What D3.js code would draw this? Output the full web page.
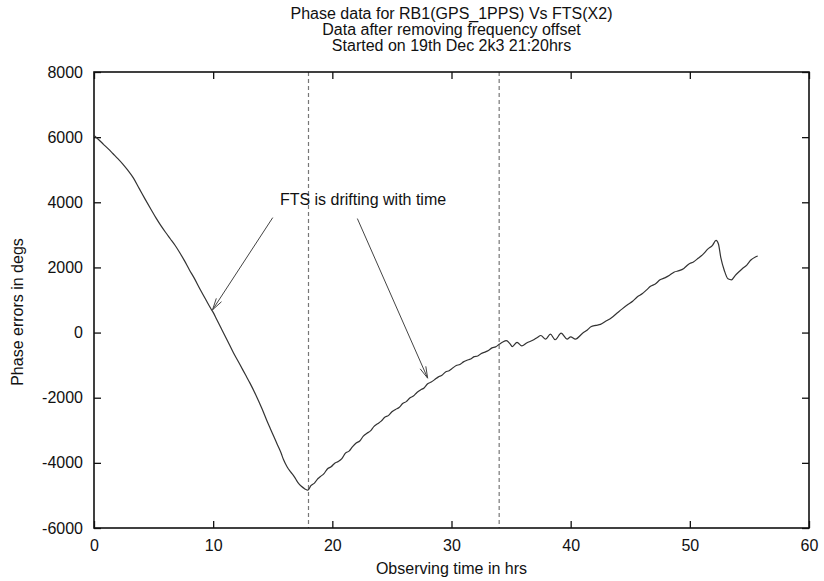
<!DOCTYPE html>
<html lang="en">
<head>
<meta charset="utf-8">
<title>Phase data for RB1(GPS_1PPS) Vs FTS(X2)</title>
<script src="https://d3js.org/d3.v7.min.js"></script>
<style>
  body { margin: 0; background: #fff; }
  text { font-family: "Liberation Sans", Arial, Helvetica, sans-serif; fill: #111; }
</style>
</head>
<body>
<script>
// chart data
var hours = [0.0, 0.4, 0.8, 1.2, 1.6, 2.0, 2.4, 2.8, 3.3, 3.8, 4.3, 4.8, 5.2, 5.6, 6.0, 6.4, 6.8, 7.2, 7.6, 8.0,
  8.4, 8.9, 9.4, 9.8, 10.0, 10.3, 10.7, 11.2, 11.7, 12.2, 12.7, 13.1, 13.6, 14.1, 14.5, 14.8, 15.1, 15.4, 15.7, 15.9,
  16.2, 16.5, 16.8, 17.1, 17.4, 17.7, 17.95, 18.2, 18.5, 18.8, 19.0, 19.3, 19.6, 19.9, 20.2, 20.5, 20.8, 21.1, 21.4, 21.7,
  22.0, 22.3, 22.6, 22.9, 23.2, 23.5, 23.8, 24.1, 24.4, 24.7, 25.0, 25.3, 25.6, 25.9, 26.2, 26.5, 26.8, 27.1, 27.4, 27.7,
  28.0, 28.3, 28.6, 28.9, 29.2, 29.5, 29.8, 30.1, 30.4, 30.7, 31.0, 31.3, 31.6, 31.9, 32.2, 32.5, 32.8, 33.1, 33.4, 33.7,
  34.0, 34.3, 34.6, 34.9, 35.1, 35.5, 35.9, 36.3, 36.9, 37.2, 37.5, 37.9, 38.3, 38.7, 39.2, 39.7, 40.0, 40.4, 41.0, 41.4,
  41.7, 42.1, 42.5, 43.0, 43.4, 43.9, 44.3, 44.8, 45.2, 45.6, 46.0, 46.4, 46.7, 47.1, 47.5, 47.9, 48.3, 48.7, 49.1, 49.5,
  49.9, 50.3, 50.7, 51.1, 51.5, 51.9, 52.2, 52.4, 52.6, 52.9, 53.2, 53.5, 53.8, 54.1, 54.4, 54.8, 55.1, 55.5, 55.7];
var phase = [6050, 5920, 5780, 5640, 5490, 5340, 5180, 5000, 4750, 4420, 4090, 3770, 3520, 3290, 3080, 2880, 2680, 2450, 2200, 1930,
  1680, 1330, 1000, 740, 620, 400, 110, -250, -620, -950, -1290, -1560, -1930, -2340, -2700, -2950, -3200, -3450, -3700, -3900,
  -4120, -4280, -4420, -4600, -4720, -4800, -4840, -4700, -4620, -4480, -4420, -4330, -4180, -4120, -4010, -3960, -3870, -3700, -3640, -3500,
  -3390, -3330, -3180, -3090, -3020, -2880, -2800, -2720, -2600, -2550, -2430, -2360, -2300, -2180, -2120, -2010, -1950, -1840, -1760, -1700,
  -1570, -1520, -1440, -1360, -1310, -1210, -1170, -1090, -1010, -980, -900, -850, -810, -740, -720, -640, -600, -550, -470, -440,
  -360, -290, -250, -340, -430, -300, -410, -320, -220, -150, -90, -200, -50, -220, -20, -200, -130, -200, -20, 80,
  180, 220, 250, 360, 450, 600, 720, 860, 960, 1100, 1190, 1320, 1420, 1490, 1620, 1680, 1760, 1860, 1900, 1970,
  2100, 2170, 2280, 2400, 2560, 2680, 2830, 2720, 2300, 1900, 1650, 1620, 1750, 1860, 1960, 2080, 2220, 2320, 2350];

var markerHours = [18, 34];
var xTicks = [0, 10, 20, 30, 40, 50, 60];
var yTicks = [-6000, -4000, -2000, 0, 2000, 4000, 6000, 8000];

var titleLines = ["Phase data for RB1(GPS_1PPS) Vs FTS(X2)",
                  "Data after removing frequency offset",
                  "Started on 19th Dec 2k3 21:20hrs"];
var noteText = "FTS is drifting with time";
var noteAt = [15.6, 3920];
var arrowFrom = [[15.0, 3530], [22.1, 3500]];
var arrowTo = [[9.95, 700], [28.0, -1400]];

var w = 824, h = 581;
var margin = {top: 72, right: 15, bottom: 53, left: 94};

var svg = d3.select("body").append("svg")
  .attr("width", w)
  .attr("height", h);

var x = d3.scaleLinear().domain([0, 60]).range([margin.left, w - margin.right]);
var y = d3.scaleLinear().domain([-6000, 8000]).range([h - margin.bottom, margin.top]);

// dashed markers
svg.selectAll("line.mark")
  .data(markerHours)
  .enter().append("line")
  .attr("class", "mark")
  .attr("x1", function(d) { return x(d); })
  .attr("x2", function(d) { return x(d); })
  .attr("y1", y(8000))
  .attr("y2", y(-6000))
  .attr("stroke", "#777")
  .attr("stroke-width", 1.2)
  .attr("stroke-dasharray", "4,3");

// axes with inward ticks (mirrored)
function tidy(g) { g.select(".domain").remove(); g.selectAll(".tick line").attr("stroke", "#111").attr("stroke-width", 1.3); }
var plain = function(d) { return String(d); };

svg.append("g")
  .attr("transform", "translate(0," + y(-6000) + ")")
  .call(d3.axisBottom(x).tickValues(xTicks).tickSize(-7).tickPadding(12).tickFormat(plain))
  .call(tidy)
  .selectAll("text").style("font-size", "16px").attr("fill", "#111");

svg.append("g")
  .attr("transform", "translate(0," + y(8000) + ")")
  .call(d3.axisTop(x).tickValues(xTicks).tickSize(-7).tickFormat(""))
  .call(tidy);

svg.append("g")
  .attr("transform", "translate(" + x(0) + ",0)")
  .call(d3.axisLeft(y).tickValues(yTicks).tickSize(-7).tickPadding(11).tickFormat(plain))
  .call(tidy)
  .selectAll("text").style("font-size", "16px").attr("fill", "#111");

svg.append("g")
  .attr("transform", "translate(" + x(60) + ",0)")
  .call(d3.axisRight(y).tickValues(yTicks).tickSize(-7).tickFormat(""))
  .call(tidy);

svg.append("rect")
  .attr("x", x(0)).attr("y", y(8000))
  .attr("width", x(60) - x(0)).attr("height", y(-6000) - y(8000))
  .attr("fill", "none").attr("stroke", "#111").attr("stroke-width", 1.6);

// the phase curve
var pts = hours.map(function(d, i) { return [d, phase[i]]; });
var line = d3.line()
  .curve(d3.curveMonotoneX)
  .x(function(d) { return x(d[0]); })
  .y(function(d) { return y(d[1]); });
svg.append("path")
  .datum(pts)
  .attr("d", line)
  .attr("fill", "none")
  .attr("stroke", "#333")
  .attr("stroke-width", 1.2);

// annotation + arrows
svg.append("text")
  .attr("x", x(noteAt[0])).attr("y", y(noteAt[1]))
  .style("font-size", "16px")
  .text(noteText);

arrowFrom.forEach(function(a, i) {
  var b = arrowTo[i];
  var x1 = x(a[0]), y1 = y(a[1]), x2 = x(b[0]), y2 = y(b[1]);
  var ang = Math.atan2(y1 - y2, x1 - x2), len = 12, spread = 0.26;
  var g = svg.append("g").attr("stroke", "#444").attr("stroke-width", 1).attr("fill", "none");
  g.append("line").attr("x1", x1).attr("y1", y1).attr("x2", x2).attr("y2", y2);
  g.append("path").attr("d",
    "M" + (x2 + len * Math.cos(ang + spread)) + "," + (y2 + len * Math.sin(ang + spread)) +
    "L" + x2 + "," + y2 +
    "L" + (x2 + len * Math.cos(ang - spread)) + "," + (y2 + len * Math.sin(ang - spread)));
});

// titles and labels
var cx = (x(0) + x(60)) / 2;
svg.selectAll("text.title")
  .data(titleLines)
  .enter().append("text")
  .attr("class", "title")
  .attr("x", cx)
  .attr("y", function(d, i) { return 19 + i * 16; })
  .attr("text-anchor", "middle")
  .style("font-size", "16px")
  .text(function(d) { return d; });

svg.append("text")
  .attr("x", cx).attr("y", 574)
  .attr("text-anchor", "middle")
  .style("font-size", "16px")
  .text("Observing time in hrs");

svg.append("text")
  .attr("transform", "translate(23,312) rotate(-90)")
  .attr("text-anchor", "middle")
  .style("font-size", "16px")
  .text("Phase errors in degs");
</script>
</body>
</html>
